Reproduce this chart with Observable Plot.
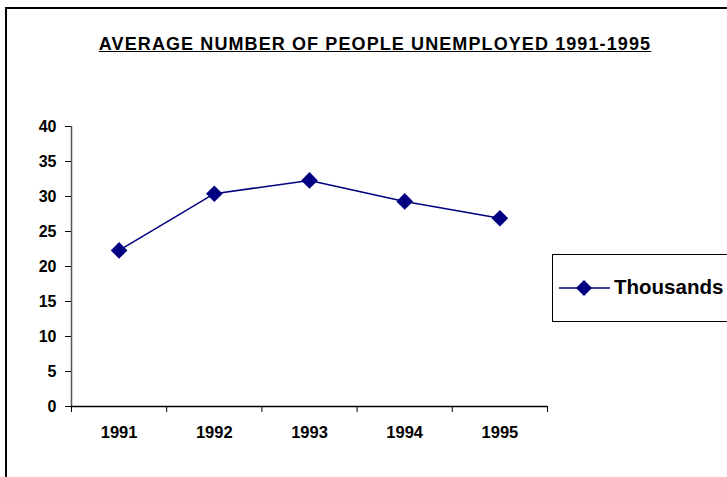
<!DOCTYPE html>
<html>
<head>
<meta charset="utf-8">
<script src="https://cdn.jsdelivr.net/npm/d3@7"></script>
<script src="https://cdn.jsdelivr.net/npm/@observablehq/plot@0.6"></script>
<style>
  html, body { margin: 0; padding: 0; background: #fff; overflow: hidden; }
  body { width: 727px; height: 477px; position: relative; font-family: "Liberation Sans", Arial, sans-serif; }
  #frame { position: absolute; left: 5px; top: 7px; width: 900px; height: 700px; border: 2px solid #000; box-sizing: border-box; }
  #title { position: absolute; left: 0; width: 750px; top: 34px; text-align: center; font-weight: bold; font-size: 18px; letter-spacing: 1.1px; text-decoration: underline; color: #000; }
  #chart { position: absolute; left: 0; top: 0; }
  #legend { position: absolute; left: 552px; top: 254px; width: 300px; height: 68px; border: 1.5px solid #000; box-sizing: border-box; background: #fff; }
  #legend svg { position: absolute; left: 0; top: 0; }
  #legend span { position: absolute; left: 61px; top: 20px; font-weight: bold; font-size: 20.5px; color: #000; }
</style>
</head>
<body>
<div id="frame"></div>
<div id="chart"></div>
<div id="title">AVERAGE NUMBER OF PEOPLE UNEMPLOYED 1991-1995</div>
<div id="legend"><svg width="70" height="68"><line x1="6" x2="57" y1="33" y2="33" stroke="#000080" stroke-width="1.5"></line><path d="M31,25L39,33L31,41L23,33Z" fill="#000080"></path></svg><span>Thousands</span></div>
<script>
const years = [1991, 1992, 1993, 1994, 1995];
const unemployed = [22.3, 30.4, 32.3, 29.3, 26.9];
const yTicks = [0, 5, 10, 15, 20, 25, 30, 35, 40];
const seriesName = "Thousands";

const data = years.map((year, i) => ({year, value: unemployed[i], series: seriesName}));
const boundaries = [years[0] - 0.5, ...years.map(y => y + 0.5)];

const chart = Plot.plot({
  width: 727,
  height: 477,
  marginLeft: 71,
  marginRight: 180,
  marginTop: 126,
  marginBottom: 71,
  style: {fontFamily: "'Liberation Sans', Arial, sans-serif", background: "transparent", color: "#000"},
  x: {type: "linear", domain: [boundaries[0], boundaries[boundaries.length - 1]]},
  y: {domain: [0, 40]},
  marks: [
    Plot.axisY({ticks: yTicks, tickSize: 6, tickPadding: 9, fontSize: 16, fontWeight: "bold", label: null, tickFormat: d => String(d)}),
    Plot.axisX({ticks: boundaries, tickSize: 6, tickFormat: () => "", label: null}),
    Plot.axisX({ticks: years, tickSize: 0, tickPadding: 20, fontSize: 16.5, fontWeight: "bold", label: null, tickFormat: d => String(d)}),
    Plot.ruleX([boundaries[0]], {y1: 0, y2: 40, stroke: "#555", strokeWidth: 1.5}),
    Plot.ruleY([0], {stroke: "#000", strokeWidth: 1.5}),
    Plot.line(data, {x: "year", y: "value", stroke: "#000080", strokeWidth: 1.5}),
    Plot.dot(data, {x: "year", y: "value", symbol: "diamond2", r: 7.5, fill: "#000080", stroke: "none"})
  ]
});
document.getElementById("chart").appendChild(chart);
</script>
</body>
</html>
